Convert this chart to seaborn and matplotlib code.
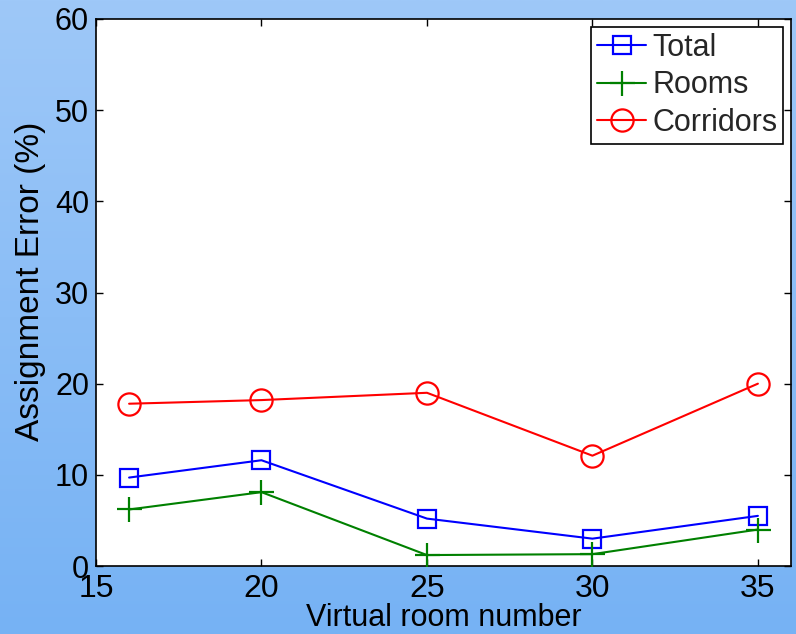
import numpy as np
import pandas as pd
import matplotlib
matplotlib.use("Agg")
import matplotlib.pyplot as plt
import seaborn as sns

rooms_x = [16, 20, 25, 30, 35]
total = [9.7, 11.6, 5.2, 3.0, 5.5]
rooms = [6.2, 8.1, 1.2, 1.3, 4.0]
corridors = [17.8, 18.2, 19.0, 12.1, 20.0]
series_names = ["Total", "Rooms", "Corridors"]
x_ticks = [15, 20, 25, 30, 35]
y_ticks = [0, 10, 20, 30, 40, 50, 60]

sns.set_theme(style="white")
plt.rcParams['font.family'] = ['Liberation Sans', 'DejaVu Sans']

fig = plt.figure(figsize=(7.96, 6.34), dpi=100)

# gradient background
bg = fig.add_axes([0, 0, 1, 1], zorder=-10)
grad = np.linspace(0, 1, 256).reshape(-1, 1)
top = np.array([158, 200, 248]) / 255.0
bot = np.array([118, 178, 244]) / 255.0
img = top[None, None, :] * (1 - grad[:, :, None]) + bot[None, None, :] * grad[:, :, None]
bg.imshow(img, aspect='auto', extent=[0, 1, 0, 1])
bg.axis('off')

ax = fig.add_axes([96 / 796, 68 / 634, 695 / 796, 547 / 634])
ax.set_facecolor('white')

df = pd.DataFrame({
    "x": rooms_x * 3,
    "y": total + rooms + corridors,
    "series": sum([[n] * len(rooms_x) for n in series_names], []),
})

styles = {
    "Total": dict(color="#0000ff", marker="s", ms=13),
    "Rooms": dict(color="#008000", marker="+", ms=18),
    "Corridors": dict(color="#ff0000", marker="o", ms=16),
}
for name in series_names:
    st = styles[name]
    sub = df[df["series"] == name]
    sns.lineplot(data=sub, x="x", y="y", ax=ax, color=st["color"], marker=st["marker"],
                 markersize=st["ms"], markerfacecolor="none", markeredgecolor=st["color"],
                 markeredgewidth=1.6, linewidth=1.5, label=name, legend=False, zorder=3)

ax.set_xlim(15, 36)
ax.set_ylim(0, 60)
ax.set_xticks(x_ticks)
ax.set_yticks(y_ticks)
ax.tick_params(direction='in', length=5, width=1, top=True, right=True,
               labelsize=22, pad=4, colors='black', bottom=True, left=True)
ax.tick_params(axis='x', pad=6, labelsize=23)
ax.tick_params(axis='y', labelsize=22, pad=5)
for sp in ax.spines.values():
    sp.set_color('black')
    sp.set_linewidth(1.2)
    sp.set_visible(True)

ax.set_xlabel("Virtual room number", fontsize=22, labelpad=-1, color='black')
ax.set_ylabel("Assignment Error (%)", fontsize=24, color='black')
ax.yaxis.set_label_coords(-0.072, 0.521)

leg = ax.legend(loc='upper right', fontsize=22, frameon=True, fancybox=False,
                edgecolor='black', framealpha=1, handlelength=1.6, handletextpad=0.2,
                borderpad=0.2, labelspacing=0.25, borderaxespad=0.25)
leg.get_frame().set_linewidth(1.2)

fig.savefig("out.png", dpi=100)
